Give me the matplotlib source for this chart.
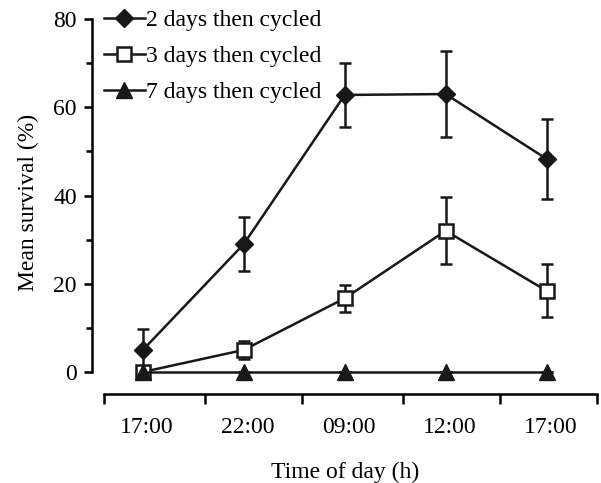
import matplotlib.pyplot as plt
from matplotlib.lines import Line2D
import numpy as np

plt.rcParams["font.family"] = ["Liberation Serif", "DejaVu Serif"]

times = ["17:00", "22:00", "09:00", "12:00", "17:00"]
surv_2d = [5.0, 29.0, 62.8, 63.0, 48.3]
err_2d = [4.8, 6.2, 7.2, 9.7, 9.0]
surv_3d = [0.0, 5.0, 16.7, 32.0, 18.4]
err_3d = [0.0, 2.0, 3.0, 7.6, 6.0]
surv_7d = [0.0, 0.0, 0.0, 0.0, 0.0]
err_7d = [0.0, 0.0, 0.0, 0.0, 0.0]
labels = ["2 days then cycled", "3 days then cycled", "7 days then cycled"]

x = np.arange(len(times))
c = "#1a1718"
lw = 1.8

fig = plt.figure(figsize=(6.01, 4.83), dpi=100)
ax = fig.add_axes([0.153, 0.2025, 0.842, 0.758])

kw = dict(color=c, lw=lw, capsize=4.5, capthick=lw, elinewidth=lw)
styles = [
    dict(marker="D", ms=9, mfc=c, mec=c),
    dict(marker="s", ms=10, mfc="white", mec=c, mew=lw),
    dict(marker="^", ms=12, mfc=c, mec=c),
]
for y, e, st in zip([surv_2d, surv_3d, surv_7d], [err_2d, err_3d, err_7d], styles):
    ax.errorbar(x, y, yerr=e, **st, **kw)

ax.set_xlim(-0.505, 4.51)
ax.set_ylim(-3, 80)

for s in ["top", "right"]:
    ax.spines[s].set_visible(False)
ax.spines["left"].set_bounds(0, 80)
ax.spines["left"].set_linewidth(lw)
ax.spines["bottom"].set_position(("outward", 6))
ax.spines["bottom"].set_bounds(-0.39, 4.505)
ax.spines["bottom"].set_linewidth(lw)

ax.set_yticks([0, 20, 40, 60, 80])
ax.set_yticks([10, 30, 50, 70], minor=True)
ax.tick_params(axis="y", which="major", length=6, width=lw, labelsize=17, pad=5)
ax.tick_params(axis="y", which="minor", length=4, width=lw)

ax.set_xticks(x + 0.04)
ax.set_xticklabels(times)
ax.set_xticks([-0.39, 0.614, 1.574, 2.574, 3.535, 4.5], minor=True)
ax.tick_params(axis="x", which="major", length=0, labelsize=17, pad=17)
ax.tick_params(axis="x", which="minor", length=7, width=lw)

ax.set_ylabel("Mean survival (%)", fontsize=17, labelpad=10)
ax.set_xlabel("Time of day (h)", fontsize=17, labelpad=17)

handles = [Line2D([], [], color=c, lw=lw, **st) for st in styles]
ax.legend(handles, labels, loc="upper left", bbox_to_anchor=(-0.005, 1.065),
          frameon=False, fontsize=17, handlelength=1.75, handletextpad=0.05,
          labelspacing=0.62, borderaxespad=0.2)

fig.savefig("out.png", dpi=100)
